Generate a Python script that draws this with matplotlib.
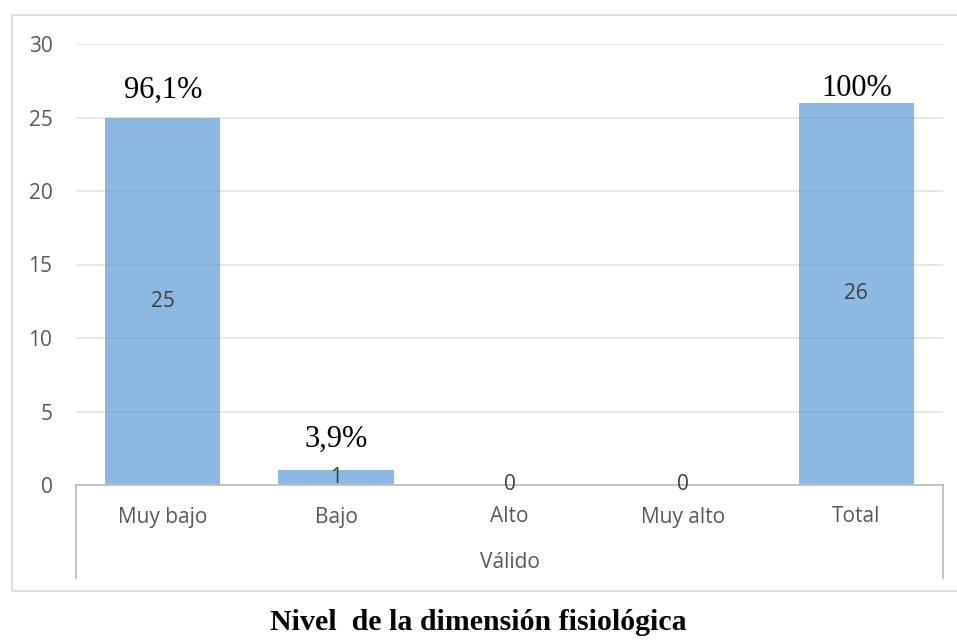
import matplotlib
matplotlib.use("Agg")
import matplotlib.pyplot as plt
from matplotlib.patches import Rectangle
from matplotlib.lines import Line2D

categories = ["Muy bajo", "Bajo", "Alto", "Muy alto", "Total"]
counts = [25, 1, 0, 0, 26]
pct_labels = ["96,1%", "3,9%", "", "", "100%"]
group_label = "Válido"
title = "Nivel  de la dimensión fisiológica"
yticks = [0, 5, 10, 15, 20, 25, 30]

W, H = 957, 642
fig = plt.figure(figsize=(W / 100, H / 100), dpi=100)

def fx(px):
    return px / W

def fy(py):
    return 1 - py / H

ax_left, ax_right, ax_top, ax_bottom = 76, 943, 44, 485
ax = fig.add_axes([fx(ax_left), fy(ax_bottom), fx(ax_right - ax_left), (ax_bottom - ax_top) / H])

x = list(range(len(categories)))
ax.set_axisbelow(True)
ax.yaxis.grid(True, color="#E3E3E3", linewidth=1.2)
bars = ax.bar(x, counts, width=0.665, color="#5B9BD5", alpha=0.7, zorder=2)
ax.set_xlim(-0.5, len(categories) - 0.5)
ax.set_ylim(0, 30)
ax.set_yticks(yticks)
ax.tick_params(axis="y", length=0, pad=17, labelsize=15, labelcolor="#595959")
ax.tick_params(axis="x", length=0, labelbottom=False)
for lab in ax.get_yticklabels():
    lab.set_fontfamily("Open Sans")
for s in ["top", "right", "left"]:
    ax.spines[s].set_visible(False)
ax.spines["bottom"].set_color("#BFBFBF")
ax.spines["bottom"].set_linewidth(1.3)
ax.spines["bottom"].set_zorder(3)

# value labels inside bars
for xi, v in zip(x, counts):
    ax.text(xi, v / 2, str(v), ha="center", va="center", fontsize=15,
            color="#404040", family="Open Sans", zorder=4)

# percentage labels above bars
pct_offsets = [9, 12, 0, 0, 0]
for xi, v, p, off in zip(x, counts, pct_labels, pct_offsets):
    if p:
        ax.annotate(p, (xi, v), xytext=(0, off), textcoords="offset points",
                    ha="center", va="bottom", fontsize=22, color="black",
                    family="Liberation Serif")

# category labels and group label
trans = ax.get_xaxis_transform()
for xi, c in zip(x, categories):
    ax.annotate(c, (xi, 0), xycoords=trans, xytext=(0, -32 * 0.72),
                textcoords="offset points", ha="center", va="center",
                fontsize=15, color="#595959", family="Open Sans")
ax.annotate(group_label, ((len(categories) - 1) / 2, 0), xycoords=trans,
            xytext=(0, -78 * 0.72), textcoords="offset points", ha="center",
            va="center", fontsize=15, color="#595959", family="Open Sans")

# vertical separators below axis
for px in (ax_left, ax_right):
    fig.add_artist(Line2D([fx(px), fx(px)], [fy(ax_bottom), fy(578)],
                          color="#BFBFBF", linewidth=1.3))

# outer chart border
fig.add_artist(Rectangle((fx(11.5), fy(591)), fx(957 - 11.5 + 5), (591 - 15) / H,
                         fill=False, edgecolor="#D9D9D9", linewidth=1.2,
                         transform=fig.transFigure))

fig.text(fx(478), fy(623), title, ha="center", va="center", fontsize=21.5,
         fontweight="bold", family="Liberation Serif", color="black")

fig.savefig("out.png", dpi=100)
